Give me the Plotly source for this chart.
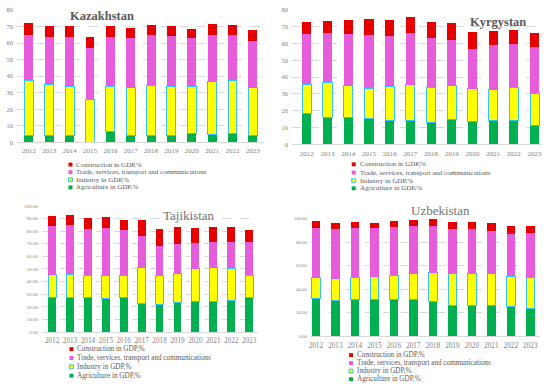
import plotly.graph_objects as go

W, H = 550, 389

years = ["2012", "2013", "2014", "2015", "2016", "2017", "2018", "2019", "2020", "2021", "2022", "2023"]
series_names = ["Agriculture in GDP,%", "Industry in GDP,%",
                "Trade, services, transport and communications", "Construction in GDP,%"]

# Kazakhstan
kz_agri = [4.5, 4.5, 4.5, 0.0, 6.5, 4.5, 4.5, 4.5, 5.5, 5.0, 5.5, 4.5]
kz_ind = [33.0, 30.5, 29.5, 26.0, 27.5, 28.5, 30.0, 29.5, 28.5, 31.5, 32.0, 28.5]
kz_trade = [27.5, 28.5, 29.5, 31.0, 29.5, 30.0, 30.5, 30.5, 29.0, 28.5, 27.5, 28.5]
kz_constr = [7.0, 6.5, 6.5, 6.5, 6.5, 6.0, 6.0, 5.5, 5.5, 6.5, 6.0, 6.5]

# Kyrgyzstan
kg_agri = [18.4, 16.1, 16.3, 15.5, 14.5, 14.5, 13.3, 15.0, 13.8, 14.2, 14.2, 11.5]
kg_ind = [17.5, 20.8, 18.7, 18.0, 20.0, 21.0, 20.7, 20.0, 19.2, 18.3, 19.8, 19.0]
kg_trade = [29.5, 29.5, 30.5, 31.5, 30.0, 30.5, 29.0, 27.0, 23.5, 26.5, 25.5, 27.5]
kg_constr = [7.2, 7.0, 8.5, 9.5, 9.5, 9.8, 10.0, 10.0, 10.2, 8.5, 8.3, 8.0]

# Tajikistan
tj_agri = [27.3, 27.5, 27.0, 26.5, 27.0, 22.5, 22.0, 23.0, 24.5, 24.5, 25.0, 27.0]
tj_ind = [18.2, 18.3, 18.0, 18.0, 18.0, 28.5, 23.0, 23.0, 25.5, 26.5, 25.5, 18.0]
tj_trade = [38.1, 39.2, 37.0, 38.0, 35.5, 25.0, 23.0, 24.0, 20.5, 20.0, 20.5, 26.5]
tj_constr = [8.4, 8.0, 8.0, 8.5, 8.5, 13.0, 14.0, 13.0, 12.0, 12.5, 12.0, 9.0]

# Uzbekistan
uz_agri = [32.0, 30.5, 31.5, 31.5, 31.5, 31.5, 29.5, 26.5, 26.5, 26.5, 25.0, 24.0]
uz_ind = [17.6, 18.3, 18.5, 19.0, 20.5, 21.5, 24.5, 26.5, 27.0, 26.5, 26.0, 26.0]
uz_trade = [42.9, 42.7, 42.5, 42.0, 41.0, 40.5, 39.5, 38.5, 37.5, 37.0, 36.0, 37.5]
uz_constr = [5.3, 5.0, 5.0, 4.0, 5.5, 5.5, 6.0, 6.0, 6.5, 6.5, 6.5, 6.5]

colors = ["#00B050", "#FFFF00", "#E65CDB", "#E60000"]
ind_border = "#33C4F5"
txt_gray = "#595959"
tick_gray = "#7F7F7F"
serif = "Liberation Serif, Times New Roman, serif"


def px_x(p):
    return p / W


def px_y(p):
    return 1 - p / H


panels = [
    dict(name="Kazakhstan", data=[kz_agri, kz_ind, kz_trade, kz_constr],
         dom_x=(15, 263), dom_y=(6, 141), yr=[0, 80], dtick=10, fmt="d",
         xr=[-0.59, 11.55], ytick_size=6.5, xtick_size=7, standoff=1,
         title=dict(x=100, y=12.5, size=12.5, bold=True, color=txt_gray),
         legend=dict(sq_x=68.7, text_x=72.5, rows=[163.5, 171.3, 179.0, 186.8], size=7)),
    dict(name="Kyrgystan", data=[kg_agri, kg_ind, kg_trade, kg_constr],
         dom_x=(291, 542), dom_y=(6, 143), yr=[0, 80], dtick=10, fmt="d",
         xr=[-0.72, 11.36], ytick_size=6.5, xtick_size=7, standoff=2,
         title=dict(x=497.5, y=18.3, size=12.5, bold=True, color=txt_gray),
         legend=dict(sq_x=353, text_x=357, rows=[163.3, 171.7, 180.0, 187.7], size=7)),
    dict(name="Tajikistan", data=[tj_agri, tj_ind, tj_trade, tj_constr],
         dom_x=(40, 257), dom_y=(205.5, 334), yr=[0, 100], dtick=10, fmt=".2f",
         xr=[-0.57, 11.5], ytick_size=5, xtick_size=7.2, standoff=1,
         title=dict(x=188, y=215, size=13, bold=False, color="#767676"),
         legend=dict(sq_x=69.7, text_x=73.5, rows=[351.5, 360.5, 369.5, 378.5], size=7.2)),
    dict(name="Uzbekistan", data=[uz_agri, uz_ind, uz_trade, uz_constr],
         dom_x=(310, 540), dom_y=(218.7, 338.3), yr=[0, 100], dtick=20, fmt=".2f",
         xr=[-0.255, 11.5], ytick_size=4.8, xtick_size=7.2, standoff=2,
         title=dict(x=440, y=210.7, size=13, bold=False, color="#767676"),
         legend=dict(sq_x=350.3, text_x=354.5, rows=[357.5, 365.7, 373.8, 382.0], size=7.2)),
]

fig = go.Figure()
layout = dict(
    width=W, height=H, margin=dict(l=0, r=0, t=0, b=0),
    paper_bgcolor="white", plot_bgcolor="white",
    barmode="stack", showlegend=False,
    font=dict(family=serif, color=txt_gray),
)
annotations = []
shapes = []

for i, p in enumerate(panels):
    n = "" if i == 0 else str(i + 1)
    xa, ya = "x" + n, "y" + n
    for j, (vals, name) in enumerate(zip(p["data"], series_names)):
        line = dict(color=ind_border, width=1) if j == 1 else dict(width=0)
        fig.add_trace(go.Bar(
            x=years, y=vals, name=name, xaxis=xa, yaxis=ya,
            marker=dict(color=colors[j], line=line), width=0.44,
            showlegend=False,
        ))
    layout["xaxis" + n] = dict(
        domain=[px_x(p["dom_x"][0]), px_x(p["dom_x"][1])], anchor=ya,
        type="category", range=p["xr"], showgrid=False, zeroline=False,
        showline=True, linecolor="#D9D9D9", linewidth=1, ticks="",
        tickfont=dict(family=serif, size=p["xtick_size"], color=tick_gray),
        ticklabelstandoff=p["standoff"],
    )
    layout["yaxis" + n] = dict(
        domain=[px_y(p["dom_y"][1]), px_y(p["dom_y"][0])], anchor=xa,
        range=p["yr"], dtick=p["dtick"], tickformat=p["fmt"],
        showgrid=True, gridcolor="#D9D9D9", griddash="dash", gridwidth=1,
        zeroline=False, showline=False, ticks="",
        tickfont=dict(family=serif, size=p["ytick_size"], color=tick_gray),
        ticklabelstandoff=3,
    )
    t = p["title"]
    annotations.append(dict(
        text=("<b>%s</b>" % p["name"]) if t["bold"] else p["name"],
        x=px_x(t["x"]), y=px_y(t["y"]), xref="paper", yref="paper",
        xanchor="center", yanchor="middle", showarrow=False,
        font=dict(family=serif, size=t["size"], color=t["color"]),
    ))
    lg = p["legend"]
    order = [3, 2, 1, 0]
    for row, j in zip(lg["rows"], order):
        s = 2.0
        shapes.append(dict(
            type="rect", xref="paper", yref="paper",
            x0=px_x(lg["sq_x"] - s), x1=px_x(lg["sq_x"] + s),
            y0=px_y(row + s), y1=px_y(row - s),
            fillcolor=colors[j],
            line=dict(color=ind_border if j == 1 else colors[j], width=1 if j == 1 else 0),
        ))
        annotations.append(dict(
            text=series_names[j], x=px_x(lg["text_x"]), y=px_y(row),
            xref="paper", yref="paper", xanchor="left", yanchor="middle",
            showarrow=False, font=dict(family=serif, size=lg["size"], color=txt_gray),
        ))

layout["annotations"] = annotations
layout["shapes"] = shapes
fig.update_layout(**layout)
fig.write_html("out.html", config={"displayModeBar": False},
               post_script="document.body.style.margin='0px';document.body.style.overflow='hidden';")
